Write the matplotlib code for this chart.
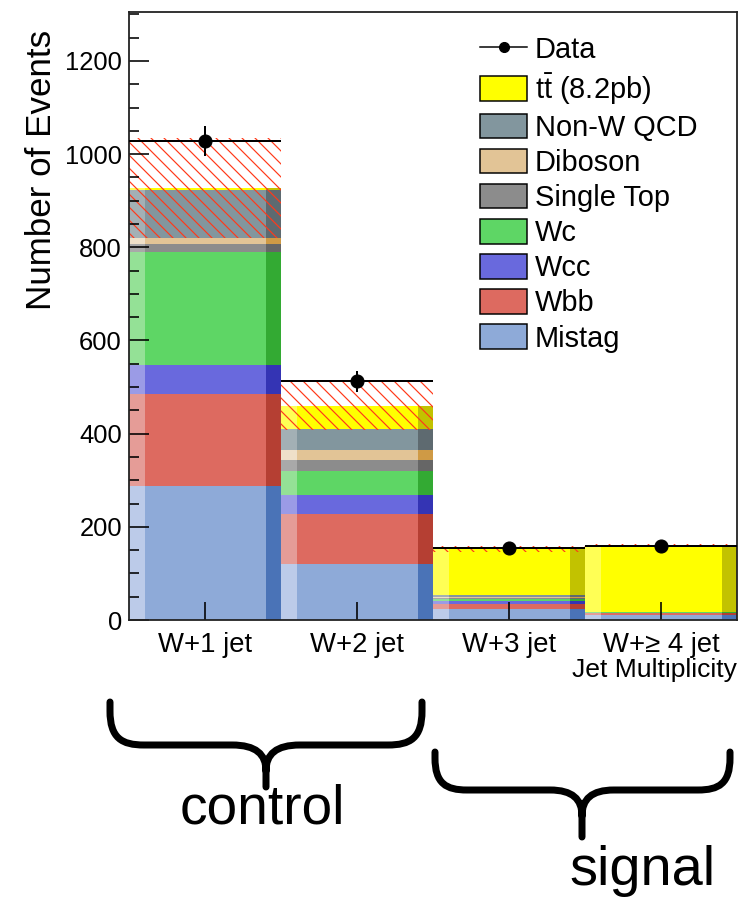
import numpy as np
import matplotlib
matplotlib.use("Agg")
import matplotlib.pyplot as plt
from matplotlib.lines import Line2D
from matplotlib.patches import Patch, PathPatch
from matplotlib.path import Path
from matplotlib.ticker import MultipleLocator, FixedLocator

DPI = 78
W, H = 752, 898
PT = 72.0 / DPI  # points per pixel

plt.rcParams["font.family"] = ["Liberation Sans", "DejaVu Sans"]
plt.rcParams["mathtext.fontset"] = "custom"
plt.rcParams["mathtext.rm"] = "Liberation Sans"
plt.rcParams["mathtext.it"] = "Liberation Sans:italic"
plt.rcParams["mathtext.bf"] = "Liberation Sans:bold"
plt.rcParams["hatch.linewidth"] = 1.2 * PT

# ---- data -------------------------------------------------------------
categories = ["W+1 jet", "W+2 jet", "W+3 jet", "W+\u2265 4 jet"]
mistag   = np.array([287.0, 120.0, 23.0, 10.7])
wbb      = np.array([198.0, 108.0, 10.7, 3.7])
wcc      = np.array([62.0, 41.0, 7.7, 1.0])
wc       = np.array([242.0, 50.0, 4.3, 0.8])
singletop = np.array([18.0, 24.0, 1.5, 0.4])
diboson  = np.array([12.0, 21.0, 1.5, 0.2])
nonw_qcd = np.array([103.0, 46.0, 5.0, 1.0])
ttbar    = np.array([5.5, 49.0, 98.7, 143.2])
bkg_unc  = np.array([108.0, 52.0, 6.0, 2.5])
data     = np.array([1029.0, 512.0, 154.0, 158.0])

# (label, values, main colour, left highlight, right shade), bottom to top
components = [
    ("Mistag", mistag, "#8eaad8", "#bccbe9", "#4a73b7"),
    ("Wbb", wbb, "#dd6a60", "#e59c97", "#b53f33"),
    ("Wcc", wcc, "#6969dd", "#9b9be6", "#3434b4"),
    ("Wc", wc, "#5ed665", "#94e196", "#33aa33"),
    ("Single Top", singletop, "#8c8c8c", "#a9a9a9", "#666666"),
    ("Diboson", diboson, "#e2c496", "#efe0c9", "#cf9a45"),
    ("Non-W QCD", nonw_qcd, "#82969e", "#a3b0b5", "#5e6a70"),
    (r"$\mathrm{t\bar{t}}$ (8.2pb)", ttbar, "#ffff00", "#ffff55", "#c2c200"),
]

# ---- figure -------------------------------------------------------------
fig = plt.figure(figsize=(W / DPI, H / DPI), dpi=DPI)
ax_l, ax_r, ax_t, ax_b = 129, 737, 12, 620
ax = fig.add_axes([ax_l / W, 1 - ax_b / H, (ax_r - ax_l) / W, (ax_b - ax_t) / H])

x = np.arange(1, len(categories) + 1)
left_edges = x - 0.5
strip_l, strip_r = 0.105, 0.10

bottom = np.zeros(len(categories))
for label, vals, c_main, c_light, c_dark in components:
    ax.bar(left_edges, vals, width=strip_l, bottom=bottom, align="edge",
           color=c_light, linewidth=0, antialiased=False)
    ax.bar(left_edges + strip_l, vals, width=1 - strip_l - strip_r, bottom=bottom,
           align="edge", color=c_main, linewidth=0, antialiased=False)
    ax.bar(left_edges + 1 - strip_r, vals, width=strip_r, bottom=bottom,
           align="edge", color=c_dark, linewidth=0, antialiased=False)
    bottom = bottom + vals

total = bottom
# hatched uncertainty band on the summed prediction
ax.bar(left_edges, 2 * bkg_unc, width=1.0, bottom=total - bkg_unc, align="edge",
       facecolor="none", edgecolor="#ff3a1a", hatch="\\\\", linewidth=0)

# data with statistical errors, horizontal bar spanning each bin
ax.errorbar(x, data, yerr=np.sqrt(data), xerr=0.5, fmt="o", color="black",
            ms=13 * PT, elinewidth=2.0 * PT, capsize=0, zorder=5)

ax.set_xlim(0.5, 4.5)
ax.set_ylim(0, 1305)

ax.yaxis.set_major_locator(MultipleLocator(200))
ax.yaxis.set_minor_locator(MultipleLocator(50))
ax.xaxis.set_major_locator(FixedLocator(x))
ax.set_xticklabels(categories)
ax.tick_params(axis="y", which="major", direction="in", length=20 * PT,
               width=1.6 * PT, labelsize=25.5 * PT, pad=7 * PT, right=False)
ax.tick_params(axis="y", which="minor", direction="in", length=10 * PT,
               width=1.6 * PT, right=False)
ax.tick_params(axis="x", which="major", direction="in", length=18 * PT,
               width=1.6 * PT, labelsize=27.5 * PT, pad=12 * PT, top=False)
ax.tick_params(axis="x", which="minor", bottom=False, top=False)
for sp in ax.spines.values():
    sp.set_linewidth(1.8 * PT)
    sp.set_color("#222222")

ax.set_xlabel("Jet Multiplicity", loc="right", fontsize=26.5 * PT, labelpad=0)
ax.set_ylabel("Number of Events", loc="top", fontsize=35 * PT)
ax.yaxis.set_label_coords((58 - ax_l) / (ax_r - ax_l), (ax_b - 30) / (ax_b - ax_t))

# ---- legend -------------------------------------------------------------
handles = [Line2D([], [], color="black", marker="o", ms=10 * PT, lw=1.5 * PT)]
labels = ["Data"]
for label, vals, c_main, c_light, c_dark in reversed(components):
    handles.append(Patch(facecolor=c_main, edgecolor="black", linewidth=1.5 * PT))
    labels.append(label)
fig.legend(handles, labels, loc="upper left",
           bbox_to_anchor=(480 / W, 1 - 36 / H), bbox_transform=fig.transFigure,
           frameon=False, fontsize=29 * PT, borderpad=0, borderaxespad=0,
           handlelength=47 / 29, handleheight=27 / 29, handletextpad=0.28,
           labelspacing=0.235)


# ---- braces marking control and signal regions ----------------------------
def fpt(px, py):
    return (px / W, 1 - py / H)


def brace(x0, x1, ytop, ymid, ytip, xc, rx, cusp_w, cusp_h):
    verts = [
        fpt(x0, ytop), fpt(x0, ymid - rx * 1.0),
        fpt(x0, ymid - rx * 0.2), fpt(x0 + rx * 0.35, ymid), fpt(x0 + rx, ymid),
        fpt(xc - cusp_w, ymid),
        fpt(xc - cusp_w * 0.3, ymid), fpt(xc, ymid + cusp_h * 0.35), fpt(xc, ymid + cusp_h),
        fpt(xc, ytip),
        fpt(xc, ymid + cusp_h),
        fpt(xc, ymid + cusp_h * 0.35), fpt(xc + cusp_w * 0.3, ymid), fpt(xc + cusp_w, ymid),
        fpt(x1 - rx, ymid),
        fpt(x1 - rx * 0.35, ymid), fpt(x1, ymid - rx * 0.2), fpt(x1, ymid - rx * 1.0),
        fpt(x1, ytop),
    ]
    codes = [Path.MOVETO, Path.LINETO,
             Path.CURVE4, Path.CURVE4, Path.CURVE4,
             Path.LINETO,
             Path.CURVE4, Path.CURVE4, Path.CURVE4,
             Path.LINETO,
             Path.MOVETO,
             Path.CURVE4, Path.CURVE4, Path.CURVE4,
             Path.LINETO,
             Path.CURVE4, Path.CURVE4, Path.CURVE4,
             Path.LINETO]
    fig.add_artist(PathPatch(Path(verts, codes), transform=fig.transFigure,
                             fill=False, lw=7 * PT, color="black",
                             capstyle="round", joinstyle="round"))


brace(110, 422, 702, 745, 787, 266, 34, 34, 26)
brace(435, 730, 752, 790, 837, 582, 32, 32, 26)

fig.text(262 / W, 1 - 823 / H, "control", ha="center", va="baseline",
         fontsize=55 * PT)
fig.text(642 / W, 1 - 885 / H, "signal", ha="center", va="baseline",
         fontsize=56 * PT)

fig.savefig("out.png", dpi=DPI)
